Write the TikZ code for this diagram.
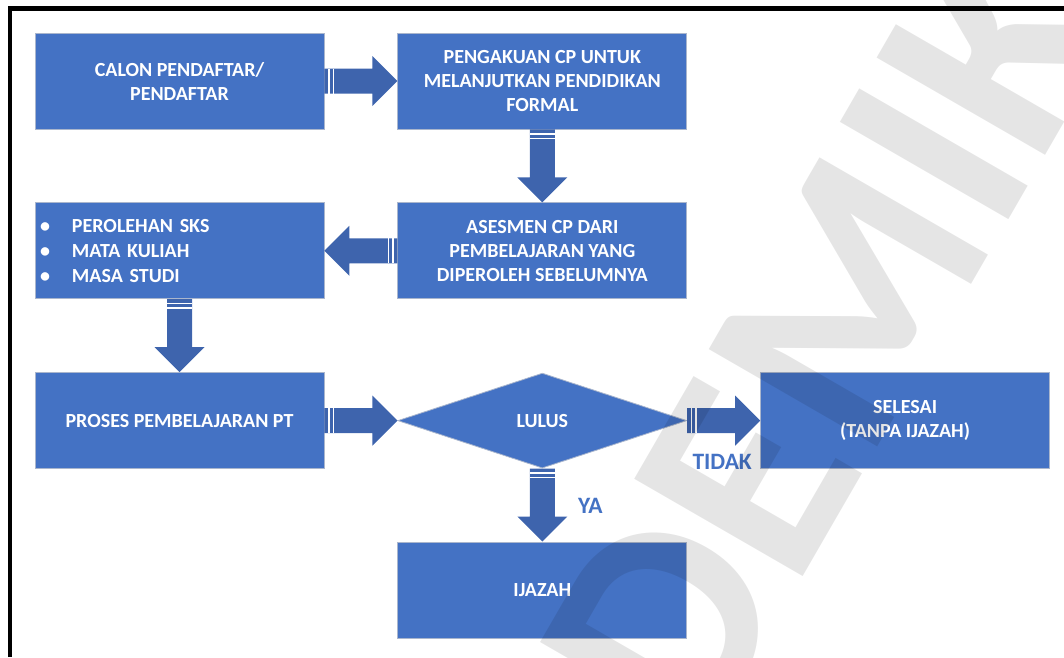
\documentclass[tikz,border=0pt]{standalone}
\usepackage{fontspec}
\setmainfont{Carlito}
\usetikzlibrary{positioning,calc,shapes.geometric}

\definecolor{boxblue}{RGB}{68,114,196}
\definecolor{arrowblue}{RGB}{62,100,173}
\definecolor{boxline}{RGB}{170,182,205}

\tikzset{
  flowbox/.style={rectangle, fill=boxblue, draw=boxline, line width=0.8pt, minimum width=289pt, minimum height=96pt, inner sep=0pt, text=white, font=\fontsize{20}{24}\selectfont\bfseries, align=center},
  flowdiamond/.style={flowbox, diamond, minimum height=95pt},
  answer/.style={text=boxblue, font=\fontsize{23.5}{28}\selectfont\bfseries}
}

% striped block arrow from #1 to #2
\newcommand{\blockarrow}[2]{%
  \coordinate (t) at (#1);
  \coordinate (h) at ($(#2)!25pt!(#1)$);
  \fill[arrowblue] ($(t)!12.5pt!90:(h)$) -- ($(h)!12.5pt!-90:(t)$) -- ($(h)!25pt!-90:(t)$) -- (#2)
    -- ($(h)!25pt!90:(t)$) -- ($(h)!12.5pt!90:(t)$) -- ($(t)!12.5pt!-90:(h)$) -- cycle;
  \coordinate (s1) at ($(t)!4.5pt!(h)$);
  \coordinate (s2) at ($(t)!8.8pt!(h)$);
  \draw[white, line width=1.2pt] ($(s1)!12.5pt!90:(h)$) -- ($(s1)!12.5pt!-90:(h)$)
    ($(s2)!12.5pt!90:(h)$) -- ($(s2)!12.5pt!-90:(h)$);
}

\begin{document}
\begin{tikzpicture}[x=1pt,y=-1pt]
    \useasboundingbox (0,0) rectangle (1064,657);

    %frame
    \draw[black, line width=4.5pt] (10,657) -- (10,8.5) -- (1064,8.5);

    %boxes
    \node[flowbox] (calon) at (179.5,81) {CALON PENDAFTAR/\\PENDAFTAR};
    \node[flowbox, right=73pt of calon] (pengakuan) {PENGAKUAN CP UNTUK\\MELANJUTKAN PENDIDIKAN\\FORMAL};
    \node[flowbox, below=73pt of pengakuan] (asesmen) {ASESMEN CP DARI\\PEMBELAJARAN YANG\\DIPEROLEH SEBELUMNYA};
    \node[flowbox, below=73pt of calon, align=left, text width=279pt, inner xsep=5pt, font=\fontsize{20}{25}\selectfont\bfseries] (capaian)
      {\makebox[32pt][l]{\textbullet}PEROLEHAN SKS\\\makebox[32pt][l]{\textbullet}MATA KULIAH\\\makebox[32pt][l]{\textbullet}MASA STUDI};
    \node[flowbox, below=73pt of capaian] (proses) {PROSES PEMBELAJARAN PT};
    \node[flowdiamond, right=73pt of proses] (lulus) {LULUS};
    \node[flowbox, right=73pt of lulus] (selesai) {SELESAI\\(TANPA IJAZAH)};
    \node[flowbox, below=73pt of lulus] (ijazah) {IJAZAH};

    %arrows
    \blockarrow{calon.east}{pengakuan.west}
    \blockarrow{pengakuan.south}{asesmen.north}
    \blockarrow{asesmen.west}{capaian.east}
    \blockarrow{capaian.south}{proses.north}
    \blockarrow{proses.east}{lulus.west}
    \blockarrow{lulus.east}{selesai.west}
    \blockarrow{lulus.south}{ijazah.north}

    %answers
    \node[answer] (tidak) at ($(lulus.east)+(35,41.5)$) {TIDAK};
    \node[answer] (ya) at ($(lulus.south)+(48,37.5)$) {YA};

    %watermark
    \begin{scope}
      \clip (0,0) rectangle (1064,657);
      \node[rotate=60, anchor=base west, inner sep=0pt, text=black, opacity=0.1, font=\fontsize{300}{300}\selectfont\bfseries] (mark) at (700,755) {DEMIK};
    \end{scope}
\end{tikzpicture}
\end{document}
